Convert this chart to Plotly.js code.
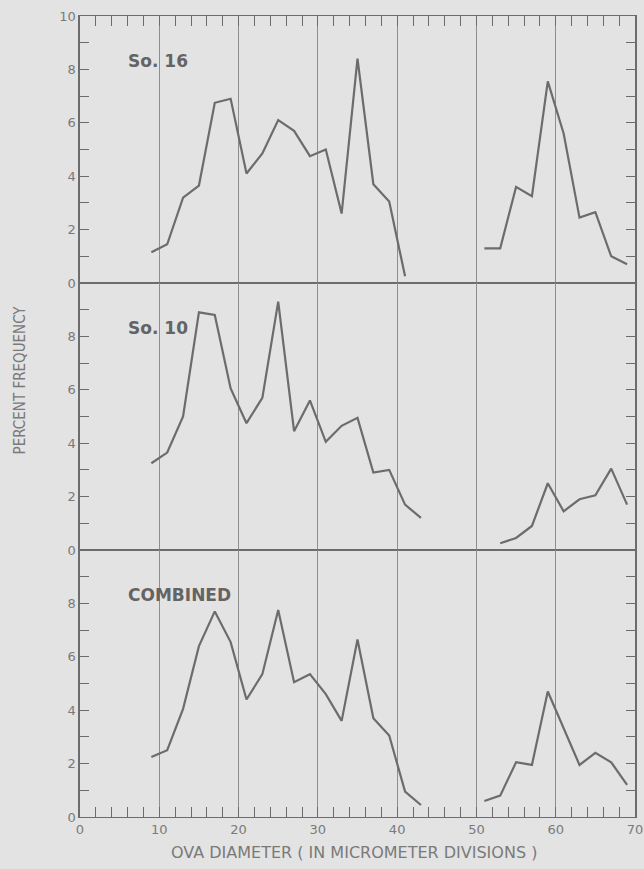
<!DOCTYPE html>
<html>
<head>
<meta charset="utf-8">
<script src="https://cdn.plot.ly/plotly-3.0.1.min.js"></script>
<style>
  html, body { margin: 0; padding: 0; background: #e3e3e3; }
  #chart { width: 644px; height: 869px; }
</style>
</head>
<body>
<div id="chart"></div>
<script>
// Ova diameter (micrometer divisions)
const xLeft16 = [9, 11, 13, 15, 17, 19, 21, 23, 25, 27, 29, 31, 33, 35, 37, 39, 41];
const yLeft16 = [1.15, 1.45, 3.2, 3.65, 6.75, 6.9, 4.1, 4.85, 6.1, 5.7, 4.75, 5.0, 2.6, 8.4, 3.7, 3.05, 0.25];
const xRight16 = [51, 53, 55, 57, 59, 61, 63, 65, 67, 69];
const yRight16 = [1.3, 1.3, 3.6, 3.25, 7.55, 5.6, 2.45, 2.65, 1.0, 0.7];

const xLeft10 = [9, 11, 13, 15, 17, 19, 21, 23, 25, 27, 29, 31, 33, 35, 37, 39, 41, 43];
const yLeft10 = [3.25, 3.65, 5.0, 8.9, 8.8, 6.05, 4.75, 5.7, 9.3, 4.45, 5.6, 4.05, 4.65, 4.95, 2.9, 3.0, 1.7, 1.2];
const xRight10 = [53, 55, 57, 59, 61, 63, 65, 67, 69];
const yRight10 = [0.25, 0.45, 0.9, 2.5, 1.45, 1.9, 2.05, 3.05, 1.7];

const xLeftC = [9, 11, 13, 15, 17, 19, 21, 23, 25, 27, 29, 31, 33, 35, 37, 39, 41, 43];
const yLeftC = [2.25, 2.5, 4.05, 6.4, 7.7, 6.55, 4.4, 5.35, 7.75, 5.05, 5.35, 4.6, 3.6, 6.65, 3.7, 3.05, 0.95, 0.45];
const xRightC = [51, 53, 55, 57, 59, 61, 63, 65, 67, 69];
const yRightC = [0.6, 0.8, 2.05, 1.95, 4.7, 3.35, 1.95, 2.4, 2.05, 1.2];

const panelLabels = ["So. 16", "So. 10", "COMBINED"];
const xTickVals = [0, 10, 20, 30, 40, 50, 60, 70];
const yTickTop = [0, 2, 4, 6, 8, 10];
const yTickOther = [0, 2, 4, 6, 8];
const xTitle = "OVA DIAMETER ( IN MICROMETER DIVISIONS )";
const yTitle = "PERCENT FREQUENCY";

const ink = "#6c6c6c";
const labelInk = "#7a7a7a";
const gridInk = "#8e8e8e";
const fontFam = "'DejaVu Sans', 'Liberation Sans', sans-serif";

function line(x, y, xa, ya) {
  return { x: x, y: y, xaxis: xa, yaxis: ya, type: "scatter", mode: "lines",
           line: { color: ink, width: 2.2 }, hoverinfo: "skip", showlegend: false };
}

const data = [
  line(xLeft16, yLeft16, "x", "y"),
  line(xRight16, yRight16, "x", "y"),
  line(xLeft10, yLeft10, "x2", "y2"),
  line(xRight10, yRight10, "x2", "y2"),
  line(xLeftC, yLeftC, "x3", "y3"),
  line(xRightC, yRightC, "x3", "y3")
];

function xAxis(anchor, side, withTicks, withLabels) {
  const ax = {
    anchor: anchor, side: side, range: [0, 70], fixedrange: true,
    tickvals: xTickVals, ticktext: xTickVals.map(String),
    showticklabels: withLabels,
    ticks: withTicks ? "inside" : "", ticklen: 10, tickwidth: 1, tickcolor: ink,
    showgrid: true, gridcolor: gridInk, gridwidth: 1,
    showline: true, linecolor: ink, linewidth: 1.3, mirror: true,
    zeroline: false,
    tickfont: { family: fontFam, size: 13, color: labelInk }
  };
  if (withTicks) {
    ax.minor = { dtick: 2, tick0: 0, ticks: "inside", ticklen: 10, tickwidth: 1, tickcolor: ink, showgrid: false };
  }
  return ax;
}

function yAxis(anchor, domain, vals) {
  return {
    anchor: anchor, domain: domain, range: [0, 10], fixedrange: true,
    tickvals: vals, ticktext: vals.map(String),
    ticks: "inside", ticklen: 9, tickwidth: 1, tickcolor: ink,
    minor: { dtick: 1, tick0: 0, ticks: "inside", ticklen: 9, tickwidth: 1, tickcolor: ink, showgrid: false },
    showgrid: false, zeroline: false,
    showline: true, linecolor: ink, linewidth: 1.6, mirror: "ticks",
    tickfont: { family: fontFam, size: 13, color: labelInk }
  };
}

const labelFont = { family: fontFam, size: 17, color: "#646464", weight: "bold" };

const layout = {
  width: 644, height: 869,
  margin: { l: 80, r: 9, t: 16, b: 52 },
  paper_bgcolor: "#e3e3e3",
  plot_bgcolor: "#e3e3e3",
  showlegend: false,
  xaxis: xAxis("y", "top", true, false),
  xaxis2: xAxis("y2", "bottom", false, false),
  xaxis3: xAxis("y3", "bottom", true, true),
  yaxis: yAxis("x", [2/3, 1], yTickTop),
  yaxis2: yAxis("x2", [1/3, 2/3], yTickOther),
  yaxis3: yAxis("x3", [0, 1/3], yTickOther),
  annotations: [
    { text: panelLabels[0], xref: "x", yref: "y", x: 5.8, y: 8.3, xanchor: "left", yanchor: "middle",
      showarrow: false, font: labelFont },
    { text: panelLabels[1], xref: "x2", yref: "y2", x: 5.8, y: 8.3, xanchor: "left", yanchor: "middle",
      showarrow: false, font: labelFont },
    { text: panelLabels[2], xref: "x3", yref: "y3", x: 5.8, y: 8.3, xanchor: "left", yanchor: "middle",
      showarrow: false, font: labelFont },
    { text: xTitle, xref: "paper", yref: "paper", x: 0.494, y: 0, yshift: -35,
      xanchor: "center", yanchor: "middle", showarrow: false,
      font: { family: fontFam, size: 16, color: labelInk } },
    { text: yTitle, xref: "paper", yref: "paper", x: 0, xshift: -60, y: 0.545,
      xanchor: "center", yanchor: "middle", textangle: -90, showarrow: false,
      font: { family: "'DejaVu Sans Condensed', 'Liberation Sans Narrow', sans-serif", size: 15, color: labelInk } }
  ]
};

Plotly.newPlot("chart", data, layout, { displayModeBar: false, staticPlot: true });
</script>
</body>
</html>
